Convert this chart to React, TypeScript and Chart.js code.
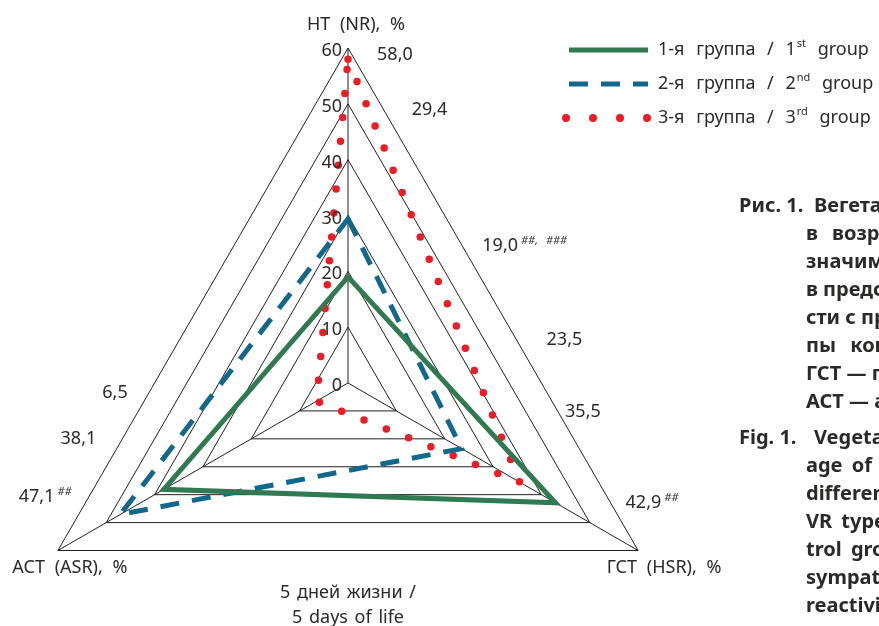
import React, { useEffect, useRef } from 'react';
import { Chart, registerables } from 'chart.js';

Chart.register(...registerables);

// ---------- data ----------
const axisLabels = ['HT (NR), %', 'ГСТ (HSR), %', 'АСТ (ASR), %'];
const group1 = [19.0, 42.9, 38.1];
const group2 = [29.4, 23.5, 47.1];
const group3 = [58.0, 35.5, 6.5];
const group1Sig = ['##, ###', '##', ''];
const group2Sig = ['', '', '##'];
const group3Sig = ['', '', ''];
const seriesNames = ['1-я группа / 1', '2-я группа / 2', '3-я группа / 3'];
const seriesOrdinals = ['st', 'nd', 'rd'];
const seriesSuffix = ' group';
const scaleMin = 0;
const scaleMax = 60;
const scaleStep = 10;
const captionLines = ['5 дней жизни /', '5 days of life'];

// ---------- styles ----------
const COLORS = ['#317a51', '#11688b', '#ec1c24'];
const TEXT = '#2b2a29';
const FONT = '"Noto Sans", sans-serif';
const FS = 18;

// placement of value annotations: [axis, series, edge(1 = top→right, 2 = top→left), t along edge, gap px]
const valueLabelLayout: [number, number, number, number, number][] = [
  [0, 2, 1, 0.014, 25],
  [0, 1, 1, 0.123, 28],
  [0, 0, 1, 0.394, 20],
  [1, 1, 1, 0.581, 30],
  [1, 2, 1, 0.724, 7],
  [1, 0, 1, 0.905, 15],
  [2, 2, 2, 0.687, 21],
  [2, 0, 2, 0.778, 26],
  [2, 1, 2, 0.894, 17],
];

const fmt = (v: number) => v.toFixed(1).replace('.', ',');

function drawSup(ctx: CanvasRenderingContext2D, x: number, y: number, main: string, sup: string, align: 'left' | 'right') {
  const mainFont = `${FS}px ${FONT}`;
  const supFont = `italic 11px ${FONT}`;
  ctx.font = mainFont;
  const w1 = ctx.measureText(main).width;
  ctx.font = supFont;
  const gap = 3;
  const w2 = sup ? ctx.measureText(sup).width + gap : 0;
  const sx = align === 'right' ? x - w1 - w2 : x;
  ctx.textAlign = 'left';
  ctx.textBaseline = 'middle';
  ctx.font = mainFont;
  ctx.fillText(main, sx, y);
  if (sup) {
    ctx.font = supFont;
    ctx.fillText(sup, sx + w1 + gap, y - 5);
  }
}

const overlayPlugin = {
  id: 'overlay',
  afterDraw(chart: any) {
    const ctx: CanvasRenderingContext2D = chart.ctx;
    const scale = chart.scales.r;
    const R = scale.drawingArea;
    const v = [0, 1, 2].map((i) => scale.getPointPosition(i, R));
    ctx.save();
    (ctx as any).wordSpacing = '5px';
    ctx.fillStyle = TEXT;

    // tick labels, left of the vertical axis
    ctx.font = `${FS}px ${FONT}`;
    ctx.textAlign = 'right';
    ctx.textBaseline = 'middle';
    scale.ticks.forEach((t: any) => {
      const p = scale.getPointPosition(0, scale.getDistanceFromCenterForValue(t.value));
      ctx.fillText(String(t.value), p.x - 6, p.y + 3);
    });

    // axis names
    ctx.textAlign = 'center';
    ctx.fillText(axisLabels[0], v[0].x + 8, v[0].y - 23);
    ctx.fillText(axisLabels[1], v[1].x + 26, v[1].y + 17);
    ctx.fillText(axisLabels[2], v[2].x + 12, v[2].y + 17);

    // caption under the chart
    (ctx as any).wordSpacing = '2px';
    captionLines.forEach((line, i) => {
      ctx.fillText(line, scale.xCenter, v[1].y + 42 + i * 25);
    });
    (ctx as any).wordSpacing = '5px';

    // value annotations
    const series = [group1, group2, group3];
    const sigs = [group1Sig, group2Sig, group3Sig];
    valueLabelLayout.forEach(([axis, s, edge, t, gap]) => {
      const a = v[0];
      const b = v[edge];
      const x = a.x + (b.x - a.x) * t;
      const y = a.y + (b.y - a.y) * t;
      const main = fmt(series[s][axis]);
      const sup = sigs[s][axis];
      if (edge === 1) drawSup(ctx, x + gap, y, main, sup, 'left');
      else drawSup(ctx, x - gap, y, main, sup, 'right');
    });

    // legend
    const ds = chart.data.datasets;
    const lx0 = 569;
    const lx1 = 648;
    (ctx as any).wordSpacing = '7px';
    [0, 1, 2].forEach((i) => {
      const y = 50 + i * 34;
      const d = ds[i];
      ctx.save();
      ctx.strokeStyle = d.borderColor;
      ctx.lineWidth = d.borderWidth;
      ctx.lineCap = d.borderCapStyle;
      if (i === 2) {
        ctx.setLineDash([0, 27]);
        ctx.lineWidth = 8;
        ctx.beginPath();
        ctx.moveTo(lx0 - 3, y);
        ctx.lineTo(lx1 + 2, y);
        ctx.stroke();
      } else {
        ctx.setLineDash(d.borderDash || []);
        ctx.beginPath();
        ctx.moveTo(lx0, y);
        ctx.lineTo(lx1, y);
        ctx.stroke();
      }
      ctx.restore();
      ctx.fillStyle = TEXT;
      ctx.font = `${FS}px ${FONT}`;
      ctx.textAlign = 'left';
      ctx.textBaseline = 'middle';
      const w1 = ctx.measureText(seriesNames[i]).width;
      ctx.fillText(seriesNames[i], 658, y);
      ctx.font = `11px ${FONT}`;
      const w2 = ctx.measureText(seriesOrdinals[i]).width;
      ctx.fillText(seriesOrdinals[i], 658 + w1 + 1, y - 6);
      ctx.font = `${FS}px ${FONT}`;
      ctx.fillText(seriesSuffix, 658 + w1 + w2 + 1, y);
    });
    ctx.restore();
  },
};

const figureLines: { label?: string; text: string; spacing?: number; gapBefore?: number }[] = [
  { label: 'Рис. 1.', text: 'Вегетативная реактивность у детей' },
  { text: 'в возрасте 5 дней жизни', spacing: 9 },
  { text: 'значимость различий' },
  { text: 'в представленности' },
  { text: 'сти с преобладанием' },
  { text: 'пы контроля', spacing: 9 },
  { text: 'ГСТ — гиперсимпатикотоническая' },
  { text: 'АСТ — асимпатикотоническая' },
  { label: 'Fig. 1.', text: 'Vegetative reactivity in children', gapBefore: 8 },
  { text: 'age of 5 days of life', spacing: 4 },
  { text: 'differences' },
  { text: 'VR types', spacing: 4 },
  { text: 'trol group', spacing: 4 },
  { text: 'sympathicotonic' },
  { text: 'reactivity' },
];

export default function App() {
  const ref = useRef<HTMLCanvasElement | null>(null);

  useEffect(() => {
    if (!ref.current) return;
    const chart = new Chart(ref.current, {
      type: 'radar',
      data: {
        labels: axisLabels,
        datasets: [
          {
            label: seriesNames[0],
            data: group1,
            borderColor: COLORS[0],
            borderWidth: 5,
            borderJoinStyle: 'miter',
            borderCapStyle: 'butt',
            fill: false,
            pointRadius: 0,
            pointHoverRadius: 0,
            order: 1,
          },
          {
            label: seriesNames[1],
            data: group2,
            borderColor: COLORS[1],
            borderWidth: 5,
            borderDash: [19, 13],
            borderJoinStyle: 'miter',
            borderCapStyle: 'butt',
            fill: false,
            pointRadius: 0,
            pointHoverRadius: 0,
            order: 2,
          },
          {
            label: seriesNames[2],
            data: group3,
            borderColor: COLORS[2],
            borderWidth: 7.5,
            borderDash: [0, 24],
            borderCapStyle: 'round',
            borderJoinStyle: 'round',
            fill: false,
            pointRadius: 0,
            pointHoverRadius: 0,
            order: 3,
          },
        ] as any,
      },
      options: {
        responsive: false,
        animation: false,
        devicePixelRatio: 1,
        layout: { padding: { left: 13, right: 196, top: 48, bottom: 42 } },
        plugins: { legend: { display: false }, tooltip: { enabled: false } },
        scales: {
          r: {
            min: scaleMin,
            max: scaleMax,
            startAngle: 0,
            ticks: { stepSize: scaleStep, display: false },
            grid: { circular: false, color: '#231f20', lineWidth: 1 },
            angleLines: { display: true, color: '#231f20', lineWidth: 1 },
            pointLabels: { display: false },
          },
        },
      } as any,
      plugins: [overlayPlugin],
    });
    return () => chart.destroy();
  }, []);

  const lineH = 28;
  const firstY = 205;
  let extra = 0;
  return (
    <div style={{ position: 'absolute', left: 0, top: 0, width: 879, height: 626, overflow: 'hidden', background: '#fff' }}>
      <canvas ref={ref} width={879} height={760} style={{ position: 'absolute', left: 0, top: 0, width: 879, height: 760 }} />
      {figureLines.map((ln, i) => {
        extra += ln.gapBefore || 0;
        const top = firstY + i * lineH + extra - 14;
        return (
          <React.Fragment key={i}>
            {ln.label && (
              <div
                style={{
                  position: 'absolute',
                  left: 739,
                  top,
                  font: `bold 20px ${FONT}`,
                  color: TEXT,
                  whiteSpace: 'nowrap',
                  lineHeight: '28px',
                }}
              >
                {ln.label}
              </div>
            )}
            <div
              style={{
                position: 'absolute',
                left: ln.label ? 814 : 806,
                top,
                font: `bold 20px ${FONT}`,
                color: TEXT,
                whiteSpace: 'nowrap',
                lineHeight: '28px',
                wordSpacing: ln.spacing ? `${ln.spacing}px` : undefined,
              }}
            >
              {ln.text}
            </div>
          </React.Fragment>
        );
      })}
    </div>
  );
}
